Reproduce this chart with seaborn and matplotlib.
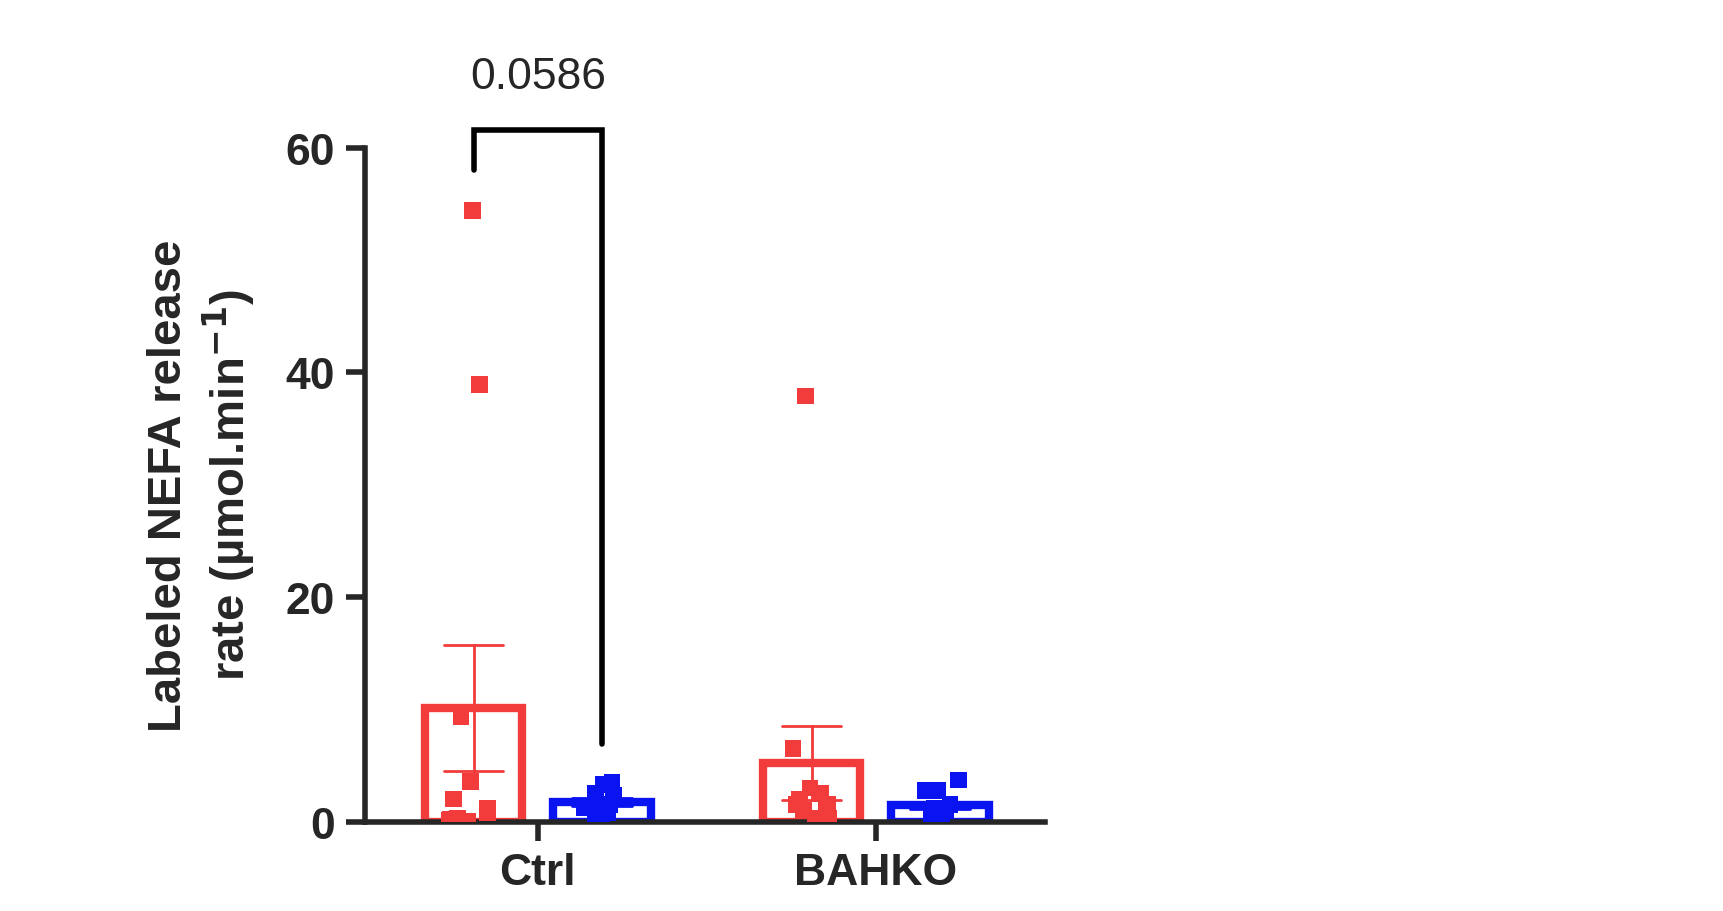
import numpy as np
import pandas as pd
import matplotlib
matplotlib.use("Agg")
import matplotlib.pyplot as plt
import seaborn as sns

genotypes = ["Ctrl", "BAHKO"]
conditions = ["A", "B"]
ctrl_red = [54.4, 38.9, 9.3, 3.6, 1.2, 0.8, 2.0, 0.3, 0.2, 0.0, 0.1]
ctrl_blue = [3.3, 3.5, 2.5, 2.3, 1.5, 1.2, 0.8, 0.5, 0.6, 1.0, 2.0]
bahko_red = [37.9, 6.5, 3.0, 2.5, 2.0, 1.5, 1.0, 1.5, 0.3, 0.3, 1.2]
bahko_blue = [3.7, 2.8, 2.8, 1.5, 1.0, 1.0, 0.5, 0.2, 0.3, 0.8, 1.2]
p_label = "0.0586"

rows = []
for g, c, vals in [("Ctrl", "A", ctrl_red), ("Ctrl", "B", ctrl_blue),
                   ("BAHKO", "A", bahko_red), ("BAHKO", "B", bahko_blue)]:
    rows += [{"g": g, "c": c, "v": v} for v in vals]
df = pd.DataFrame(rows)
pal = {"A": "#f23c3c", "B": "#0a14f0"}

sns.set_style("ticks")
plt.rcParams['font.family'] = ['Liberation Sans', 'DejaVu Sans']
fig = plt.figure(figsize=(17.24, 9.12), dpi=100)
ax = fig.add_axes([0.212, 0.098, 0.394, 0.739])

sns.barplot(data=df, x="g", y="v", hue="c", order=genotypes, hue_order=conditions,
            palette=pal, width=0.76, gap=0.24, errorbar="se", fill=False,
            linewidth=6, err_kws={"linewidth": 2}, capsize=0.35, legend=False, ax=ax)
for patch in ax.patches:
    pass
np.random.seed(3)
sns.stripplot(data=df, x="g", y="v", hue="c", order=genotypes, hue_order=conditions,
              palette=pal, dodge=True, jitter=0.13, marker="s", size=12,
              legend=False, ax=ax, zorder=3)

ax.set_ylim(0, 60)
ax.set_xlim(-0.51, 1.5)
ax.set_yticks([0, 20, 40, 60])
ax.set_xlabel("")
ax.set_ylabel("Labeled NEFA release\nrate (µmol.min$^{\\mathbf{-1}}$)", fontsize=34,
              fontweight="bold", labelpad=20)
ax.tick_params(axis="both", width=4, length=14, labelsize=32, direction="out", pad=8)
for lab in ax.get_xticklabels() + ax.get_yticklabels():
    lab.set_fontweight("bold")
for s in ["left", "bottom"]:
    ax.spines[s].set_linewidth(4)
sns.despine(ax=ax)

xl, xr = -0.19, 0.19
ax.plot([xl, xl, xr, xr], [58, 61.6, 61.6, 6.9], color="black", lw=4,
        clip_on=False, solid_joinstyle="miter")
ax.text(0, 64.5, p_label, ha="center", va="bottom", fontsize=32)

fig.savefig("out.png", dpi=100)
